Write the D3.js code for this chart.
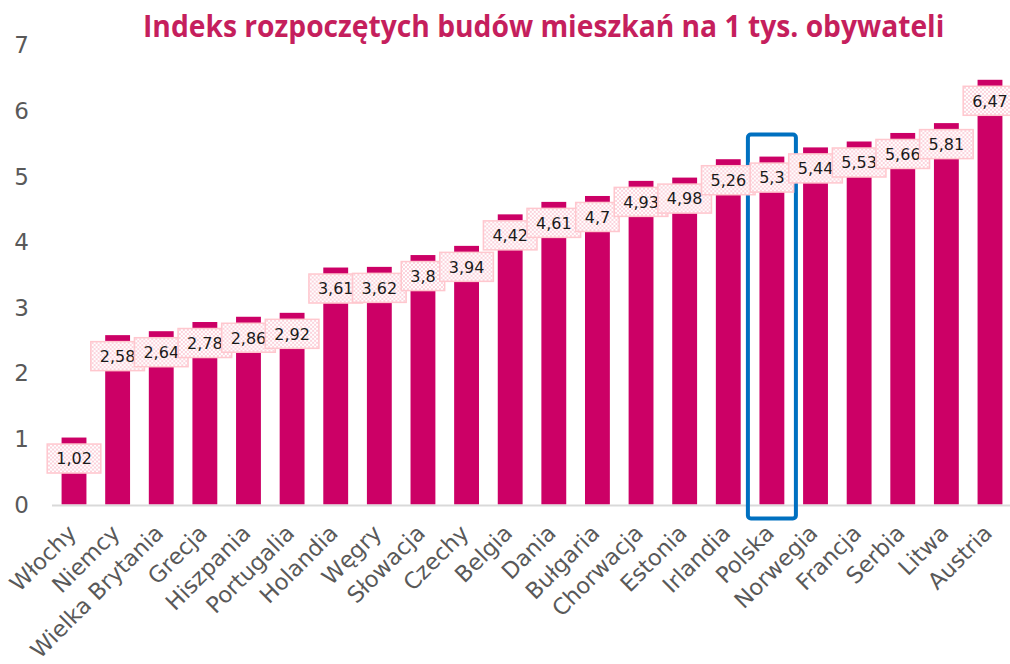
<!DOCTYPE html>
<html><head><meta charset="utf-8">
<script src="https://cdn.jsdelivr.net/npm/d3@7"></script>
<style>
html,body{margin:0;padding:0;background:#fff;}
svg{display:block;}
</style></head>
<body>
<svg id="chart" width="1010" height="664"></svg>
<script>
const categories = ["Włochy","Niemcy","Wielka Brytania","Grecja","Hiszpania","Portugalia","Holandia","Węgry","Słowacja","Czechy","Belgia","Dania","Bułgaria","Chorwacja","Estonia","Irlandia","Polska","Norwegia","Francja","Serbia","Litwa","Austria"];
const values = [1.02,2.58,2.64,2.78,2.86,2.92,3.61,3.62,3.8,3.94,4.42,4.61,4.7,4.93,4.98,5.26,5.3,5.44,5.53,5.66,5.81,6.47];
const yTicks = [0,1,2,3,4,5,6,7];
const highlighted = "Polska";
const title = "Indeks rozpoczętych budów mieszkań na 1 tys. obywateli";

const FONT = "'DejaVu Sans', Verdana, sans-serif";
const svg = d3.select("#chart");
const defs = svg.append("defs");
const pat = defs.append("pattern").attr("id","chk").attr("width",4).attr("height",4).attr("patternUnits","userSpaceOnUse");
pat.append("rect").attr("width",4).attr("height",4).attr("fill","#ffffff");
pat.append("rect").attr("width",2).attr("height",2).attr("fill","#fbd3dc");
pat.append("rect").attr("x",2).attr("y",2).attr("width",2).attr("height",2).attr("fill","#fbd3dc");

const x = d3.scaleBand().domain(categories).range([52.2, 1011.8]).paddingInner(0.43).paddingOuter(0.215);
const y = d3.scaleLinear().domain([0,7]).range([504.5, 45]);

// y tick labels
svg.append("g").selectAll("text").data(yTicks).join("text")
  .attr("x", 29).attr("y", d => y(d)).attr("dy","0.36em")
  .attr("text-anchor","end")
  .attr("font-family",FONT).attr("font-size",23)
  .attr("fill","#595959").text(d => d);

// bars
svg.append("g").selectAll("rect").data(categories).join("rect")
  .attr("x", d => x(d)).attr("width", x.bandwidth())
  .attr("y", (d,i) => y(values[i])).attr("height", (d,i) => y(0) - y(values[i]))
  .attr("fill","#cc0066");

// axis line
svg.append("line").attr("x1",52).attr("x2",1010).attr("y1",y(0)+1).attr("y2",y(0)+1)
  .attr("stroke","#d9d9d9").attr("stroke-width",2);

// highlight box
const hx = x(highlighted) + x.bandwidth()/2;
const hv = values[categories.indexOf(highlighted)];
svg.append("rect").attr("x", hx-24).attr("y", y(hv)-22).attr("width",48).attr("height", y(0)+14-(y(hv)-22))
  .attr("rx",3).attr("fill","none").attr("stroke","#0070c0").attr("stroke-width",4);

// data labels
const lg = svg.append("g").selectAll("g").data(categories).join("g")
  .attr("transform",(d,i)=>`translate(${x(d)+x.bandwidth()/2},${y(values[i])+21})`);
lg.append("text").attr("text-anchor","middle").attr("dy","0.36em")
  .attr("font-family",FONT).attr("font-size",16)
  .attr("fill","#1a1a1a").text((d,i)=>String(values[i]).replace(".",","));
lg.each(function(){
  const g = d3.select(this);
  const w = g.select("text").node().getComputedTextLength() + 18;
  g.insert("rect","text").attr("x",-w/2).attr("y",-14.5).attr("width",w).attr("height",29)
    .attr("fill","url(#chk)").attr("stroke","#ffc7ce").attr("stroke-width",1.5);
});

// category labels
svg.append("g").selectAll("text").data(categories).join("text")
  .attr("transform", d => `translate(${x(d)+x.bandwidth()/2-2},${529}) rotate(-45)`)
  .attr("text-anchor","end").attr("dy","0.35em")
  .attr("font-family",FONT).attr("font-size",22.5)
  .attr("fill","#595959").text(d=>d);

// title
const tg = svg.append("g");
const tt = tg.append("text").attr("x",0).attr("y",0)
  .attr("font-family","'Open Sans', sans-serif").attr("font-weight","bold")
  .attr("font-size",31).attr("fill","#c51f5d")
  .text(title);
const tw = tt.node().getComputedTextLength();
tg.attr("transform",`translate(143,37) scale(${802/tw},1)`);
</script>
</body></html>
